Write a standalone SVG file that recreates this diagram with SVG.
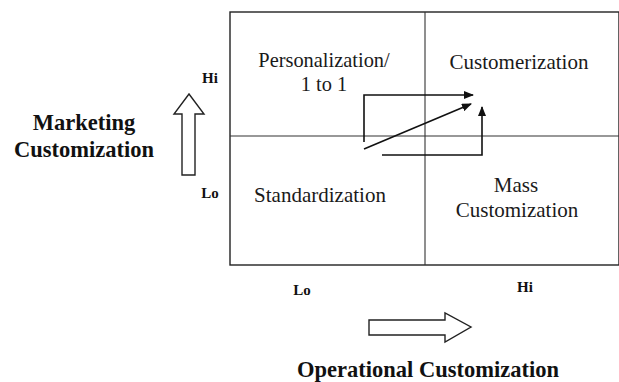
<svg xmlns="http://www.w3.org/2000/svg" width="619" height="382" viewBox="0 0 619 382">
  <style>
    .quad { font-family: "Liberation Serif", "Times New Roman", serif; font-size: 21px; fill: #1a1a1a; text-anchor: middle; }
    .quad-tight { font-size: 20.4px; }
    .axis { font-family: "Liberation Serif", "Times New Roman", serif; font-size: 22.5px; font-weight: bold; fill: #111; text-anchor: middle; }
    .tick { font-family: "Liberation Serif", "Times New Roman", serif; font-size: 15px; font-weight: bold; fill: #111; text-anchor: middle; }
    .frame { fill: none; stroke: #222; stroke-width: 1.4; }
    .divider { stroke: #333; stroke-width: 1.1; }
    .flow { fill: none; stroke: #111; stroke-width: 1.6; }
    .hollow { fill: #fff; stroke: #222; stroke-width: 1.4; stroke-linejoin: miter; }
  </style>
  <defs>
    <marker id="head" viewBox="0 0 10 8" refX="9" refY="4" markerWidth="10" markerHeight="8" markerUnits="userSpaceOnUse" orient="auto">
      <path d="M0,0 L10,4 L0,8 Z" fill="#111"/>
    </marker>
  </defs>
  <rect width="619" height="382" fill="#fff"/>

  <!-- matrix frame and quadrant dividers -->
  <g id="matrix">
    <rect class="frame" x="230" y="12" width="389" height="253"/>
    <line class="divider" x1="425" y1="12" x2="425" y2="265"/>
    <line class="divider" x1="230" y1="136" x2="619" y2="136"/>
  </g>

  <g id="personalization">
    <text class="quad quad-tight" x="324" y="67">Personalization/</text>
    <text class="quad quad-tight" x="324" y="90.5">1 to 1</text>
  </g>
  <g id="customerization">
    <text class="quad" x="519" y="69">Customerization</text>
  </g>
  <g id="standardization">
    <text class="quad" x="320" y="202">Standardization</text>
  </g>
  <g id="mass-customization">
    <text class="quad" x="516" y="192">Mass</text>
    <text class="quad" x="517" y="217">Customization</text>
  </g>

  <!-- migration paths toward customerization -->
  <g id="connectors">
    <polyline class="flow" points="364,142 364,95 473,95" marker-end="url(#head)"/>
    <line class="flow" x1="364" y1="149" x2="471" y2="104" marker-end="url(#head)"/>
    <polyline class="flow" points="382,155 482,155 482,107" marker-end="url(#head)"/>
  </g>

  <!-- vertical axis -->
  <g id="marketing-axis">
    <text class="axis" x="84" y="130">Marketing</text>
    <text class="axis" x="84" y="157">Customization</text>
    <text class="tick" x="210" y="83">Hi</text>
    <text class="tick" x="210" y="198">Lo</text>
    <path class="hollow" d="M182,175 L182,114 L174,114 L189,94 L204,114 L195,114 L195,175 Z"/>
  </g>

  <!-- horizontal axis -->
  <g id="operational-axis">
    <text class="tick" x="302" y="295">Lo</text>
    <text class="tick" x="525" y="292">Hi</text>
    <path class="hollow" d="M369,320 L445,320 L445,313 L471,327 L445,342 L445,335 L369,335 Z"/>
    <text class="axis" x="428" y="377">Operational Customization</text>
  </g>
</svg>
